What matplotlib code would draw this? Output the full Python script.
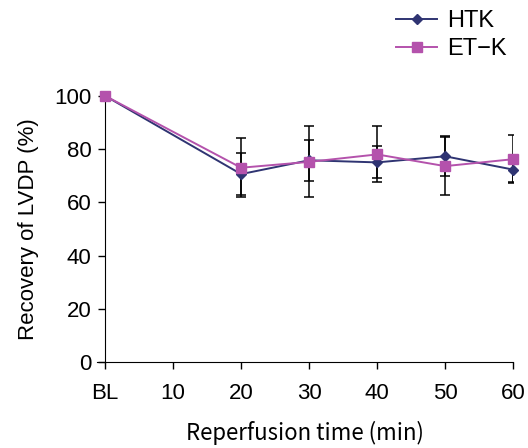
import matplotlib
matplotlib.use("Agg")
import matplotlib.pyplot as plt

plt.rcParams["font.family"] = ["Liberation Sans", "DejaVu Sans"]

# data
times = [0, 20, 30, 40, 50, 60]
tick_pos = [0, 10, 20, 30, 40, 50, 60]
tick_labels = ["BL", "10", "20", "30", "40", "50", "60"]

htk_mean = [100, 70.6, 75.8, 75.0, 77.3, 72.3]
htk_sd = [0, 7.8, 7.8, 6.0, 7.5, 4.5]
etk_mean = [100, 73.0, 75.2, 78.0, 73.6, 76.2]
etk_sd = [0, 11.0, 13.3, 10.5, 11.0, 9.0]

HTK_COLOR = "#2F3472"
ETK_COLOR = "#B452AC"

fig = plt.figure(figsize=(5.28, 4.48), dpi=100)
ax = fig.add_axes([0.1837, 0.192, 0.788, 0.594])

for mean, sd in [(htk_mean, htk_sd), (etk_mean, etk_sd)]:
    ax.errorbar(times[1:], mean[1:], yerr=sd[1:], fmt="none", ecolor="black",
                elinewidth=1.1, capsize=3.6, capthick=1.1, zorder=2)

ax.plot(times, htk_mean, color=HTK_COLOR, marker="D", markersize=5.5, lw=1.4,
        label="HTK", zorder=3, clip_on=False)
ax.plot(times, etk_mean, color=ETK_COLOR, marker="s", markersize=7, lw=1.4,
        label="ET\u2212K", zorder=4, clip_on=False)

ax.set_xlim(-1.2, 60)
ax.set_ylim(0, 100)
ax.spines["left"].set_position(("data", 0))
ax.spines["top"].set_visible(False)
ax.spines["right"].set_visible(False)
ax.set_xticks(tick_pos)
ax.set_xticklabels(tick_labels)
ax.set_yticks([0, 20, 40, 60, 80, 100])
ax.tick_params(axis="both", labelsize=16, length=5, width=1, colors="black")
ax.tick_params(axis="x", pad=10)
ax.tick_params(axis="y", pad=5)

ax.set_xlabel("Reperfusion time (min)", fontsize=16, labelpad=12,
              family=["Noto Sans CJK JP", "DejaVu Sans"])
ax.set_ylabel("Recovery of LVDP (%)", fontsize=16, labelpad=11)

fig.legend(loc="upper right", bbox_to_anchor=(1.0, 1.025), frameon=False,
           fontsize=17, handlelength=1.7, handletextpad=0.45, labelspacing=0.25)

fig.savefig("out.png", dpi=100)
